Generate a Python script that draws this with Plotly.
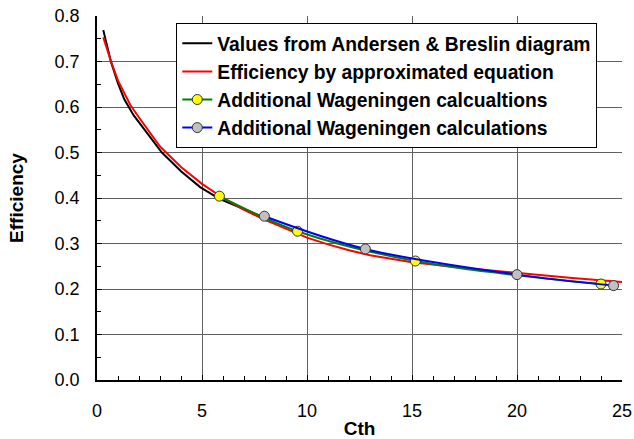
import plotly.graph_objects as go

# Values from Andersen & Breslin diagram
ab_cth = [0.3, 0.5, 0.66, 1.0, 1.3, 1.74, 2.5, 3.09, 4.0, 4.91, 5.83, 7.0, 7.97]
ab_eff = [0.769, 0.732, 0.700, 0.652, 0.617, 0.582, 0.535, 0.500, 0.459, 0.424, 0.398, 0.375, 0.357]

# Efficiency by approximated equation
eq_cth = [0.3, 0.66, 1.0, 1.58, 2.0, 3.0, 4.0, 5.0, 6.0, 7.0, 8.0, 9.0, 10.0,
          11.0, 12.0, 13.0, 14.0, 15.0, 17.5, 20.0, 22.5, 25.0]
eq_eff = [0.753, 0.701, 0.658, 0.605, 0.577, 0.513, 0.468, 0.431, 0.400, 0.374,
          0.352, 0.332, 0.313, 0.298, 0.285, 0.274, 0.266, 0.259, 0.246, 0.235,
          0.225, 0.2155]

# Additional Wageningen calcualtions (yellow markers)
wag1_cth = [5.83, 9.55, 15.16, 24.0]
wag1_eff = [0.404, 0.327, 0.2615, 0.211]

# Additional Wageningen calculations (grey markers)
wag2_cth = [7.97, 12.78, 20.0, 24.6]
wag2_eff = [0.360, 0.288, 0.2316, 0.2075]

FONT = "Liberation Sans, Arial, sans-serif"

fig = go.Figure()

fig.add_trace(go.Scatter(
    x=ab_cth, y=ab_eff, mode="lines", name="Values from Andersen & Breslin diagram",
    line=dict(color="black", width=2), legendgroup="a",
))
fig.add_trace(go.Scatter(
    x=eq_cth, y=eq_eff, mode="lines", name="Efficiency by approximated equation",
    line=dict(color="#ff0000", width=2), legendgroup="b",
))
fig.add_trace(go.Scatter(
    x=wag1_cth, y=wag1_eff, mode="lines+markers", name="Additional Wageningen calcualtions",
    line=dict(color="#008000", width=2, shape="spline"),
    marker=dict(color="#ffff00", size=10, line=dict(color="#333333", width=1)),
    legendgroup="c",
))
fig.add_trace(go.Scatter(
    x=wag2_cth, y=wag2_eff, mode="lines+markers", name="Additional Wageningen calculations",
    line=dict(color="#0000ff", width=2, shape="spline"),
    marker=dict(color="#c0c0c0", size=10, line=dict(color="#333333", width=1)),
    legendgroup="d",
))

fig.update_layout(
    width=634, height=439,
    margin=dict(l=97, r=11.5, t=15.7, b=59.3),
    paper_bgcolor="white", plot_bgcolor="white",
    font=dict(family=FONT, size=18, color="black"),
    showlegend=True,
    legend=dict(
        x=0.151, y=0.98, xanchor="left", yanchor="top",
        bgcolor="white", bordercolor="black", borderwidth=1,
        font=dict(family=FONT, size=19.3, color="black", weight="bold"),
        tracegroupgap=0, itemwidth=30,
    ),
)

fig.update_xaxes(
    range=[0, 25], dtick=5, tick0=0, automargin=False, ticklabeloverflow="allow",
    showgrid=True, gridcolor="#606060", gridwidth=1,
    showline=True, linecolor="black", linewidth=1.5,
    ticks="inside", ticklen=5, tickcolor="black",
    minor=dict(dtick=1, ticks="inside", ticklen=4, tickcolor="black", showgrid=False),
    ticklabelstandoff=14,
    zeroline=False,
    title=dict(text="Cth", font=dict(family=FONT, size=19, weight="bold"), standoff=4),
)
fig.update_yaxes(
    range=[0, 0.8], dtick=0.1, tick0=0, tickformat=".1f", automargin=False,
    ticklabeloverflow="allow",
    showgrid=True, gridcolor="#606060", gridwidth=1,
    showline=True, linecolor="black", linewidth=1.5,
    ticks="inside", ticklen=5, tickcolor="black",
    minor=dict(dtick=0.05, ticks="inside", ticklen=4, tickcolor="black", showgrid=False),
    ticklabelstandoff=12,
    zeroline=False,
    title=dict(text="Efficiency", font=dict(family=FONT, size=19, weight="bold"), standoff=26),
)

# drop the default 8px page margin so the figure sits at the window's corner
fig.write_html(
    "out.html",
    config={"displayModeBar": False},
    post_script="document.body.style.margin='0';",
)
